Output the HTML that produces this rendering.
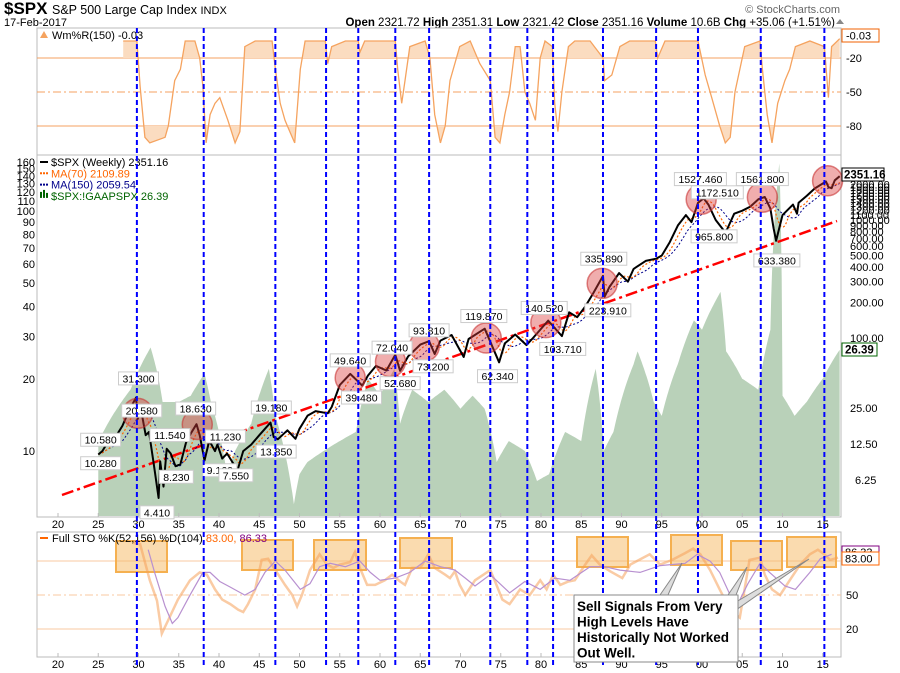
<!DOCTYPE html>
<html><head><meta charset="utf-8"><style>
html,body{margin:0;padding:0;background:#fff;}
svg{display:block;font-family:"Liberation Sans",sans-serif;}
</style></head><body>
<svg id="chart" width="900" height="673" viewBox="0 0 900 673" xmlns="http://www.w3.org/2000/svg">
<text x="4" y="14" font-size="17" font-weight="bold">$SPX</text>
<text x="52" y="14" font-size="12.5">S&amp;P 500 Large Cap Index <tspan font-size="11">INDX</tspan></text>
<text x="4" y="26" font-size="11">17-Feb-2017</text>
<text x="840" y="13" font-size="11" fill="#666" text-anchor="end">© StockCharts.com</text>
<text x="835" y="26" font-size="11.5" text-anchor="end"><tspan font-weight="bold">Open</tspan> 2321.72 <tspan font-weight="bold">High</tspan> 2351.31 <tspan font-weight="bold">Low</tspan> 2321.42 <tspan font-weight="bold">Close</tspan> 2351.16 <tspan font-weight="bold">Volume</tspan> 10.6B <tspan font-weight="bold">Chg</tspan> +35.06 (+1.51%)</text>
<path d="M836,24 L844,24 L840,19 Z" fill="#888"/>
<g id="layer"></g>
</svg>
<script>
const wYears=[1928.1,1929.8,1930.2,1930.8,1931.4,1933.3,1933.7,1934.2,1934.5,1935.2,1935.8,1937.0,1937.6,1938.0,1938.4,1938.9,1939.5,1940.1,1941.1,1942.0,1942.6,1943.2,1944.5,1946.6,1947.0,1947.6,1948.2,1948.8,1949.4,1950.1,1950.7,1953.2,1953.5,1954.0,1955.7,1957.3,1957.5,1958.1,1961.9,1962.2,1962.7,1963.1,1963.7,1965.6,1966.2,1966.8,1967.5,1968.1,1968.7,1969.9,1971.2,1972.4,1973.7,1974.3,1974.9,1975.5,1976.1,1976.8,1977.4,1978.0,1978.6,1979.3,1979.9,1980.5,1981.4,1981.7,1982.1,1982.6,1983.4,1984.2,1986.1,1987.7,1987.9,1988.8,1989.8,1991.0,1994.2,1994.5,1995.4,1998.5,1999.5,2000.4,2001.2,2002.2,2002.9,2003.5,2004.1,2005.3,2007.2,2007.5,2008.1,2008.7,2009.4,2010.3,2010.9,2011.6,2013.4,2015.2,2015.7,2016.1,2017.1];
const wValues=[-5,-5,-45,-90,-95,-90,-80,-55,-40,-30,-5,-5,-20,-45,-95,-70,-60,-55,-75,-95,-85,-10,-5,-5,-30,-60,-75,-85,-95,-30,-5,-5,-25,-10,-5,-5,-15,-5,-5,-30,-60,-40,-10,-5,-20,-70,-95,-80,-40,-10,-5,-25,-40,-90,-95,-70,-50,-10,-10,-50,-60,-75,-20,-5,-10,-60,-85,-50,-10,-5,-5,-20,-40,-35,-10,-5,-5,-20,-5,-5,-5,-35,-55,-80,-95,-90,-50,-10,-5,-30,-70,-95,-60,-40,-30,-10,-5,-10,-55,-10,-3];
const pYears=[1925.0,1925.5,1926,1927,1928,1928.8,1929.7,1929.9,1930.3,1930.9,1931.3,1931.9,1932.5,1932.7,1933.1,1933.5,1934,1934.6,1935.2,1935.9,1936.5,1937.2,1937.6,1938.2,1938.8,1939.5,1939.8,1940.4,1941,1942.3,1943,1944,1945,1946.4,1946.8,1947.3,1948.5,1949.5,1950,1951,1952,1953.5,1954,1955,1956.3,1957.8,1958.5,1959.5,1960.8,1961.9,1962.5,1963.5,1965,1966.1,1966.8,1967.5,1968.9,1970.4,1971,1973,1974.8,1975.5,1976.8,1978.2,1979,1980.9,1982.6,1983.5,1984.5,1985.5,1986.5,1987.7,1987.9,1988.5,1989.7,1990.8,1991.5,1993,1994.3,1995,1996,1997,1998,1998.7,1999.5,2000.2,2000.8,2001.7,2002.8,2003.1,2004,2005,2006,2007,2007.8,2008.5,2008.9,2009.2,2010,2011.3,2011.8,2012,2013,2014,2015.4,2015.7,2016.1,2016.5,2017.1];
const pValues=[10.3,11,12.5,14,18,24,31.3,20.6,25,15,16,8.5,4.41,9,5.5,11.5,10.5,8.2,8.5,13,15.5,18.6,15,9.16,13.5,11,12.5,9.5,10.5,7.55,11,12.5,15,19.18,14.5,13.85,16.5,14,17,22,24,23,26,40,49.6,39.5,48,58,53,72,52.7,70,88,94,73.2,95,106,69,98,119.9,62.3,90,107,87,100,140.5,103.7,165,150,185,240,335.9,223.9,270,355,300,385,450,470,500,650,900,1100,960,1400,1527,1350,1000,800,830,1130,1200,1300,1500,1565,1250,850,666,1100,1350,1130,1400,1600,1850,2120,1900,1860,2170,2351];
const peYears=[1925,1929,1931.5,1932.5,1933,1935,1936.5,1938.2,1939,1941,1942,1944,1946.2,1947,1949.3,1950,1951,1953,1955,1957,1958.5,1960,1961.8,1962.5,1964,1966,1968,1970,1971.5,1973,1974.5,1976,1978,1979.5,1981,1983,1985,1986.8,1987.8,1989,1991.5,1992,1994,1995,1997,1999,2000,2002.3,2003,2005,2007,2008.5,2009.6,2010,2011.5,2013,2015,2017.1];
const peValues=[10.9,18,27,20,16,16,17,21,16,8,10,13,22,14,6,8,9,10,11,12,20,17,22,13,18,16,18,15,17,15,9,11,10,7.5,8,12,11,22,10,12,23,26,16,14,23,35,32,46,26,20,18,32,158,17,14,16,20,26.39];
const kYears=[1929.3,1930.2,1931.4,1932.3,1932.9,1933.7,1934.9,1936.4,1937.6,1938.5,1939.5,1940.4,1941.4,1942.4,1943.0,1943.6,1944.5,1945.3,1946.1,1947.0,1948.2,1949.1,1949.7,1950.3,1951.3,1952.5,1953.4,1954.2,1955.0,1956.3,1956.9,1957.5,1958.4,1959.4,1960.6,1961.5,1962.5,1963.1,1964.0,1965.0,1966.0,1966.8,1968.1,1968.7,1969.3,1969.9,1970.6,1971.8,1973.7,1974.3,1975.2,1976.1,1977.4,1978.6,1979.9,1980.7,1981.5,1982.4,1983.4,1984.2,1985.5,1986.3,1987.3,1988.6,1990.1,1991.1,1993.5,1994.8,1996.3,1997.9,1998.9,1999.8,2001.0,2002.2,2003.5,2004.7,2005.9,2007.2,2007.8,2008.7,2009.7,2010.9,2012.2,2013.4,2014.4,2015.2,2015.9,2016.9];
const kValues=[96,95,63,45,16,28,46,63,70,68,55,46,42,37,35,42,55,81,82,72,59,50,40,50,72,86,77,74,77,79,88,74,59,59,63,68,62,59,74,74,86,74,68,65,71,59,50,63,72,62,46,42,55,50,63,55,68,59,62,63,77,85,77,71,65,77,86,77,81,87,91,86,72,55,37,30,81,83,68,55,50,63,77,86,90,86,81,83];
const dYears=[1931.2,1932.0,1933.3,1934.2,1934.9,1936.4,1938.0,1938.9,1940.1,1941.4,1943.2,1944.5,1945.7,1947.0,1948.2,1950.1,1951.3,1952.5,1953.8,1955.7,1957.5,1958.8,1960.0,1961.9,1963.7,1965.6,1967.5,1969.3,1970.6,1971.8,1973.7,1974.9,1976.1,1978.0,1979.9,1981.7,1983.6,1986.1,1987.9,1989.8,1992.3,1994.8,1997.9,1999.4,2001.0,2002.2,2003.5,2004.3,2005.7,2007.2,2008.4,2010.3,2011.6,2013.4,2014.7,2016.1];
const dValues=[90,70,40,25,30,50,70,70,62,57,50,55,70,80,72,55,60,75,78,75,80,70,63,65,70,80,75,72,65,58,68,60,52,62,55,65,63,75,75,72,70,76,78,86,80,70,50,40,60,78,70,58,55,70,82,86];
const signalYears=[1929.8,1938.1,1947.0,1953.3,1957.3,1961.9,1966.1,1973.7,1978.3,1981.5,1987.7,1994.3,1999.5,2007.3,2015.2];
const peakYears=[1929.9,1937.3,1956.3,1961.3,1965.5,1973.2,1980.6,1987.6,1999.9,2007.5,2015.6];
const peakPrices=[23,18.5,46,63,85,100,135,290,1500,1560,2150];
const labelText=["10.580","10.280","31.300","20.580","11.540","8.230","4.410","18.630","11.230","9.160","7.550","19.180","13.850","49.640","39.480","72.040","52.680","93.810","73.200","119.870","62.340","140.520","103.710","335.890","223.910","1527.460","1172.510","965.800","1561.800","633.380"];
const labelYears=[1925.3,1925.3,1930,1930.4,1933.9,1934.7,1932.3,1937.1,1940.8,1940.1,1942.1,1946.5,1947.1,1956.3,1957.7,1961.5,1962.5,1966.1,1966.6,1972.9,1974.6,1980.4,1982.7,1987.8,1988.3,1999.8,2001.9,2001.5,2007.5,2009.3];
const labelPrices=[13.6,8.6,45,24,14.9,6.6,3.3,25,14.5,7.5,6.8,25.5,10.8,64,31,82,41,115,57,152,47,178,80,465,170,2200,1700,720,2200,450];
const xTicks=[1920,1925,1930,1935,1940,1945,1950,1955,1960,1965,1970,1975,1980,1985,1990,1995,2000,2005,2010,2015];
const xTickLabels=["20","25","30","35","40","45","50","55","60","65","70","75","80","85","90","95","00","05","10","15"];
const peTicks=[10,20,30,40,50,60,70,80,90,100,110,120,130,140,150,160];
const priceTicks=[100,200,300,400,500,600,700,800,900,1000,1100,1200,1300,1400,1500,1600,1700,1800,1900,2000];
const peRightTicks=[6.25,12.5,25];
const wTicks=[-20,-50,-80];
const sTicks=[50,20];

const NS="http://www.w3.org/2000/svg";
const L=37,R=841;
const xS=y=>58+(y-1920)*8.05;
const pY=p=>574-118*Math.log10(p);
const peY=v=>Math.max(160,451-240*Math.log10(v/10));
const peRY=v=>408-120*Math.log10(v/25);
const wY=v=>35.3-v*1.133;
const sY=v=>651.7-1.133*v;
const layer=document.getElementById('layer');
function mk(tag,attrs,parent){const e=document.createElementNS(NS,tag);for(const k in attrs)e.setAttribute(k,attrs[k]);(parent||layer).appendChild(e);return e;}
function txt(s,attrs){const e=mk('text',attrs);e.textContent=s;return e;}
function interp(xs,vs,x){if(x<=xs[0])return vs[0];for(let i=1;i<xs.length;i++){if(x<=xs[i]){const t=(x-xs[i-1])/(xs[i]-xs[i-1]);return vs[i-1]+(vs[i]-vs[i-1])*t;}}return vs[vs.length-1];}

let e;
e=mk('rect',{x:L,y:28,width:R-L,height:127,fill:'none',stroke:'#bbb'});


e=mk('rect',{x:L,y:155,width:R-L,height:362,fill:'none',stroke:'#bbb'});


e=mk('rect',{x:L,y:532,width:R-L,height:125,fill:'none',stroke:'#bbb'});



const defs=mk('defs',{});
const c1=mk('clipPath',{id:'cTop'},defs);mk('rect',{x:L,y:28,width:R-L,height:wY(-20)-28},c1);
const c2=mk('clipPath',{id:'cBot'},defs);mk('rect',{x:L,y:wY(-80),width:R-L,height:155-wY(-80)},c2);
const c3=mk('clipPath',{id:'cMain'},defs);mk('rect',{x:L,y:156,width:R-L,height:360},c3);

let d='M'+xS(peYears[0])+',516';
for(let y=peYears[0];y<=2017.1;y+=0.1){d+=' L'+xS(y).toFixed(1)+','+peY(interp(peYears,peValues,y)).toFixed(1);}
d+=' L'+xS(2017.1)+','+peY(peValues[peValues.length-1])+' L'+xS(2017.1)+',516 Z';
e=mk('path',{d:d,fill:'#b9d1b9',stroke:'none','clip-path':'url(#cMain)'});



wTicks.forEach(v=>{
 e=mk('line',{x1:L,x2:R,y1:wY(v),y2:wY(v),stroke:'#f5a060','stroke-width':1,'stroke-dasharray':v===-50?'8,3,2,3':'none'});
 
 
 e=txt(String(v),{x:846,y:wY(v)+4,'font-size':11});
 
 
});
let wpts=wYears.map((y,i)=>xS(y).toFixed(1)+','+wY(wValues[i]).toFixed(1));
const x0=xS(wYears[0]),x1=xS(wYears[wYears.length-1]);
e=mk('path',{d:'M'+x0+','+wY(-20)+' L'+wpts.join(' L')+' L'+x1+','+wY(-20)+' Z',fill:'#fbdcc0','clip-path':'url(#cTop)'});


e=mk('path',{d:'M'+x0+','+wY(-80)+' L'+wpts.join(' L')+' L'+x1+','+wY(-80)+' Z',fill:'#fbdcc0','clip-path':'url(#cBot)'});


e=mk('polyline',{points:wpts.join(' '),fill:'none',stroke:'#f5a35f','stroke-width':1.3});


mk('path',{d:'M40,38 L44,31 L48,38 Z',fill:'#f5a35f'});
e=txt('Wm%R(150) -0.03',{x:52,y:39,'font-size':11});


e=mk('rect',{x:842,y:29,width:37,height:13,fill:'#fff',stroke:'#f06000'});


txt('-0.03',{x:846,y:39.5,'font-size':11});

peTicks.forEach(v=>{
 e=txt(String(v),{x:35,y:peY(v)+4,'font-size':11,'text-anchor':'end'});
 
 
});
priceTicks.forEach(v=>{
 e=txt(v.toFixed(2),{x:850,y:pY(v)+4,'font-size':11});
 
 
});
peRightTicks.forEach(v=>{
 e=txt(v.toFixed(2),{x:v<10?855:850,y:peRY(v)+4,'font-size':11});
 
 
});

e=mk('line',{x1:62,y1:495,x2:837,y2:221,stroke:'#ff0000','stroke-width':2.5,'stroke-dasharray':'12,4,3,4'});



function ma(win){const out=[];for(let y=pYears[0];y<=2017.1;y+=0.05){let s=0,n=0;for(let t=Math.max(pYears[0],y-win);t<=y;t+=0.05){s+=Math.log(interp(pYears,pValues,t));n++;}out.push(xS(y).toFixed(1)+','+pY(Math.exp(s/n)).toFixed(1));}return out.join(' ');}
e=mk('polyline',{points:ma(2.9),fill:'none',stroke:'#00008b','stroke-width':1,'stroke-dasharray':'2,2'});


e=mk('polyline',{points:ma(1.35),fill:'none',stroke:'#ff6600','stroke-width':1.2,'stroke-dasharray':'2,2'});


e=mk('polyline',{points:pYears.map((y,i)=>xS(y).toFixed(1)+','+pY(pValues[i]).toFixed(1)).join(' '),fill:'none',stroke:'#000','stroke-width':2,'stroke-linejoin':'round'});



peakYears.forEach((y,i)=>{
 e=mk('circle',{cx:xS(y),cy:pY(peakPrices[i]),r:15,fill:'rgba(220,60,60,0.42)',stroke:'rgba(200,50,50,0.6)','stroke-width':1.5});
 
 
});
labelText.forEach((s,i)=>{
 const cx=xS(labelYears[i]),cy=pY(labelPrices[i]);const w=s.length*6+4;
 e=mk('rect',{x:cx-w/2,y:cy-7,width:w,height:13,fill:'#fff',stroke:'#ccc'});
 
 
 txt(s,{x:cx,y:cy+3.5,'font-size':10.5,'text-anchor':'middle'});
});
const leg=[['$SPX (Weekly) 2351.16','#000','solid'],['MA(70) 2109.89','#ff6600','dot'],['MA(150) 2059.54','#00008b','dot'],['$SPX:!GAAPSPX 26.39','#006400','bar']];
leg.forEach((l,i)=>{const y=165+i*11.3;
 if(l[2]==='solid')mk('line',{x1:40,x2:48,y1:y-3,y2:y-3,stroke:'#000','stroke-width':2});
 else if(l[2]==='dot')mk('line',{x1:40,x2:48,y1:y-3,y2:y-3,stroke:l[1],'stroke-width':2,'stroke-dasharray':'2,1'});
 else{mk('rect',{x:40,y:y-7,width:2,height:6,fill:l[1]});mk('rect',{x:43,y:y-9,width:2,height:8,fill:l[1]});mk('rect',{x:46,y:y-6,width:2,height:5,fill:l[1]});}
 e=txt(l[0],{x:51,y:y+1,'font-size':11,fill:l[1]});
 
 
});
e=mk('rect',{x:842,y:168,width:42,height:13,fill:'#fff',stroke:'#000'});


txt('2351.16',{x:844,y:178.5,'font-size':11.5,'font-weight':'bold'});
e=mk('rect',{x:842,y:343,width:35,height:13,fill:'#fff',stroke:'#006400'});


txt('26.39',{x:845,y:353.5,'font-size':11.5,'font-weight':'bold'});

[524,664].forEach(yy=>{xTicks.forEach((t,i)=>{
 e=txt(xTickLabels[i],{x:xS(t),y:yy+4,'font-size':11,'text-anchor':'middle'});
 
 
 mk('line',{x1:xS(t),x2:xS(t),y1:yy-7,y2:yy-11,stroke:'#bbb'});
});});

[80,50,20].forEach(v=>{
 e=mk('line',{x1:L,x2:R,y1:sY(v),y2:sY(v),stroke:'#f8c8a0','stroke-width':1,'stroke-dasharray':v===50?'8,3,2,3':'none'});
 
 
});
sTicks.forEach(v=>{
 e=txt(String(v),{x:846,y:sY(v)+4,'font-size':11});
 
 
});
const boxes=[[116,541,51,31],[242,540,51,30],[314,540,52,30],[400,538,52,30],[577,537,51,30],[671,535,51,30],[731,541,51,29],[787,537,49,30]];
boxes.forEach(b=>{
 e=mk('rect',{x:b[0],y:b[1],width:b[2],height:b[3],fill:'rgba(245,190,110,0.55)',stroke:'#f5b050','stroke-width':2});
 
 
});
e=mk('polyline',{points:kYears.map((y,i)=>xS(y).toFixed(1)+','+sY(kValues[i]).toFixed(1)).join(' '),fill:'none',stroke:'rgba(245,160,90,0.55)','stroke-width':2.5});


e=mk('polyline',{points:dYears.map((y,i)=>xS(y).toFixed(1)+','+sY(dValues[i]).toFixed(1)).join(' '),fill:'none',stroke:'#b890d0','stroke-width':1.2});


mk('line',{x1:40,x2:48,y1:538,y2:538,stroke:'#ff6600','stroke-width':2});
e=txt('Full STO %K(52,156) %D(104) ',{x:52,y:542,'font-size':11});


const ts=mk('tspan',{fill:'#ff6600'},e);ts.textContent='83.00, ';
const ts2=mk('tspan',{fill:'#800080'},e);ts2.textContent='86.33';
e=mk('rect',{x:842,y:546,width:37,height:12,fill:'#fff',stroke:'#800080'});


txt('86.33',{x:845,y:556,'font-size':11});
e=mk('rect',{x:842,y:552,width:37,height:13,fill:'#fff',stroke:'#ff6600'});


txt('83.00',{x:845,y:562.5,'font-size':11});

signalYears.forEach(y=>{
 e=mk('line',{x1:xS(y),x2:xS(y),y1:28,y2:667,stroke:'#0000ff','stroke-width':2,'stroke-dasharray':'5,3'});
 
 
});

e=mk('path',{d:'M660,595 L682,563 L668,595 Z M728,595 L747,567 L736,595 Z M736,602 L809,559 L736,610 Z',fill:'#ddd',stroke:'#888'});


e=mk('rect',{x:574,y:595,width:164,height:67,fill:'#fff',stroke:'#888'});


['Sell Signals From Very','High Levels Have','Historically Not Worked','Out Well.'].forEach((s,i)=>{
 e=txt(s,{x:577,y:611+i*15.5,'font-size':13.5,'font-weight':'bold'});
 
 
});
</script>
</body></html>
